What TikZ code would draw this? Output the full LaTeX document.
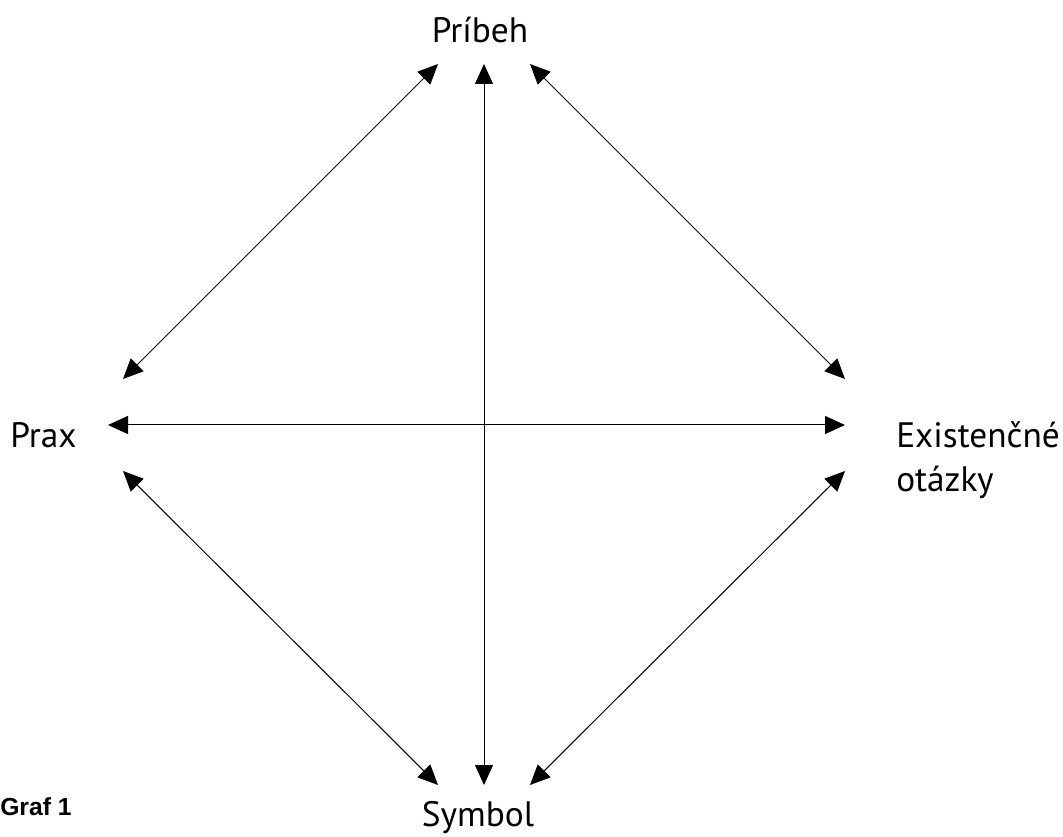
\documentclass[tikz,border=0pt]{standalone}
\usepackage{fontspec}
\setmainfont{PT Sans}
\newfontfamily\grafont{Liberation Sans}
\usetikzlibrary{arrows.meta}

\tikzset{
  label/.style={inner sep=0pt, font=\fontsize{26.5}{33}\selectfont},
  link/.style={line width=0.75pt, {Triangle[length=15pt,width=13.5pt]}-{Triangle[length=15pt,width=13.5pt]}}
}

\begin{document}
\begin{tikzpicture}[x=0.75pt, y=-0.75pt]
        % Rámec obrázka
        \useasboundingbox (0,0) rectangle (1063,837);

        % Popisy vrcholov
        \node[label, anchor=base] (pribeh) at (480,43) {Príbeh};
        \node[label, anchor=base west] (prax) at (10,447) {Prax};
        \node[label, anchor=base west, align=left] (otazky) at (896,491) {Existenčné\\otázky};
        \node[label, anchor=base] (symbol) at (478,826) {Symbol};
        \node[inner sep=0pt, anchor=base west, font=\grafont\bfseries\fontsize{18.5}{21}\selectfont] (graf) at (0,815) {Graf 1};

        % Konce šípok
        \coordinate (horeL) at (438,64);  \coordinate (hore) at (484,64);  \coordinate (horeP) at (530,64);
        \coordinate (doleL) at (438,785); \coordinate (dole) at (484,785); \coordinate (doleP) at (530,785);
        \coordinate (lavoH) at (123,379); \coordinate (lavo) at (108,425); \coordinate (lavoD) at (123,471);
        \coordinate (pravoH) at (845,379); \coordinate (pravo) at (845,425); \coordinate (pravoD) at (845,471);

        % Osi kríža
        \draw[link] (hore) -- (dole);
        \draw[link] (lavo) -- (pravo);

        % Strany kosoštvorca
        \draw[link] (horeL) -- (lavoH);
        \draw[link] (horeP) -- (pravoH);
        \draw[link] (lavoD) -- (doleL);
        \draw[link] (pravoD) -- (doleP);

    \end{tikzpicture}
\end{document}
